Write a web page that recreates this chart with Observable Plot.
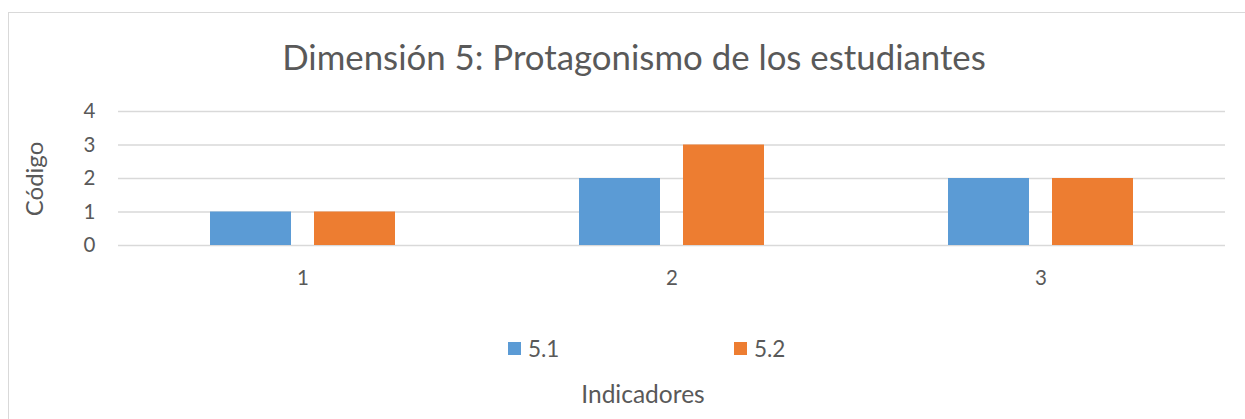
<!DOCTYPE html>
<html>
<head>
<meta charset="utf-8">
<script src="https://cdn.jsdelivr.net/npm/d3@7"></script>
<script src="https://cdn.jsdelivr.net/npm/@observablehq/plot@0.6"></script>
<style>
  body { margin: 0; background: #fff; font-family: Lato, "Open Sans", sans-serif; color: #595959; }
  #wrap { position: relative; width: 1245px; height: 419px; overflow: hidden; }
  #frame { position: absolute; left: 8px; top: 12px; width: 1300px; height: 500px; border-left: 1.5px solid #d9d9d9; border-top: 1.5px solid #d9d9d9; }
  #title { position: absolute; left: 0; width: 1268px; top: 37px; text-align: center; font-size: 34.8px; line-height: 40px; white-space: nowrap; }
  #ylabel { position: absolute; left: 33px; top: 179px; transform: translate(-50%, -50%) rotate(-90deg); font-size: 24px; white-space: nowrap; }
  #xlabel { position: absolute; left: 643px; top: 379px; transform: translateX(-50%); font-size: 24.5px; white-space: nowrap; }
  #legend { position: absolute; top: 335px; left: 0; width: 1245px; height: 26px; }
  .item { position: absolute; display: flex; align-items: center; font-size: 22.5px; }
  .sw { width: 13px; height: 13px; margin-right: 7px; }
  #plot { position: absolute; left: 0; top: 0; }
  #plot svg text { font-size: 20.5px !important; fill: #595959; }
</style>
</head>
<body>
<div id="wrap">
  <div id="frame"></div>
  <div id="plot"></div>
  <div id="title"></div>
  <div id="ylabel"></div>
  <div id="legend"></div>
  <div id="xlabel"></div>
</div>
<script>
const categories = [1, 2, 3];
const seriesNames = ["5.1", "5.2"];
const values51 = [1, 2, 2];
const values52 = [1, 3, 2];
const yTicks = [0, 1, 2, 3, 4];
const colors = ["#5B9BD5", "#ED7D31"];
const titleText = "Dimensión 5: Protagonismo de los estudiantes";
const yLabelText = "Código";
const xLabelText = "Indicadores";

const data = [];
categories.forEach((c, i) => {
  data.push({cat: c, series: seriesNames[0], value: values51[i]});
  data.push({cat: c, series: seriesNames[1], value: values52[i]});
});

const chart = Plot.plot({
  width: 1245,
  height: 290,
  marginLeft: 117,
  marginRight: 19,
  marginTop: 111,
  marginBottom: 45,
  style: {fontFamily: "Lato, 'Open Sans', sans-serif", fontSize: "20px", color: "#595959", background: "transparent", overflow: "visible"},
  fx: {domain: categories, padding: 0, label: null, axis: "bottom", tickSize: 0, tickPadding: 25},
  x: {domain: seriesNames, axis: null, paddingInner: 0.219, paddingOuter: 0.871},
  y: {domain: [0, 4], ticks: yTicks, tickFormat: "d", label: null, tickSize: 0, tickPadding: 23},
  color: {domain: seriesNames, range: colors},
  marks: [
    Plot.gridY(yTicks, {stroke: "#d9d9d9", strokeOpacity: 1, strokeWidth: 1.5}),
    Plot.barY(data, {fx: "cat", x: "series", y: "value", fill: "series"})
  ]
});
document.getElementById("plot").appendChild(chart);

document.getElementById("title").textContent = titleText;
document.getElementById("ylabel").textContent = yLabelText;
document.getElementById("xlabel").textContent = xLabelText;

const legend = document.getElementById("legend");
const legendX = [508, 734];
seriesNames.forEach((s, i) => {
  const it = document.createElement("div");
  it.className = "item";
  it.style.left = legendX[i] + "px";
  const sw = document.createElement("span");
  sw.className = "sw";
  sw.style.background = colors[i];
  const t = document.createElement("span");
  t.textContent = s;
  it.appendChild(sw);
  it.appendChild(t);
  legend.appendChild(it);
});
</script>
</body>
</html>
